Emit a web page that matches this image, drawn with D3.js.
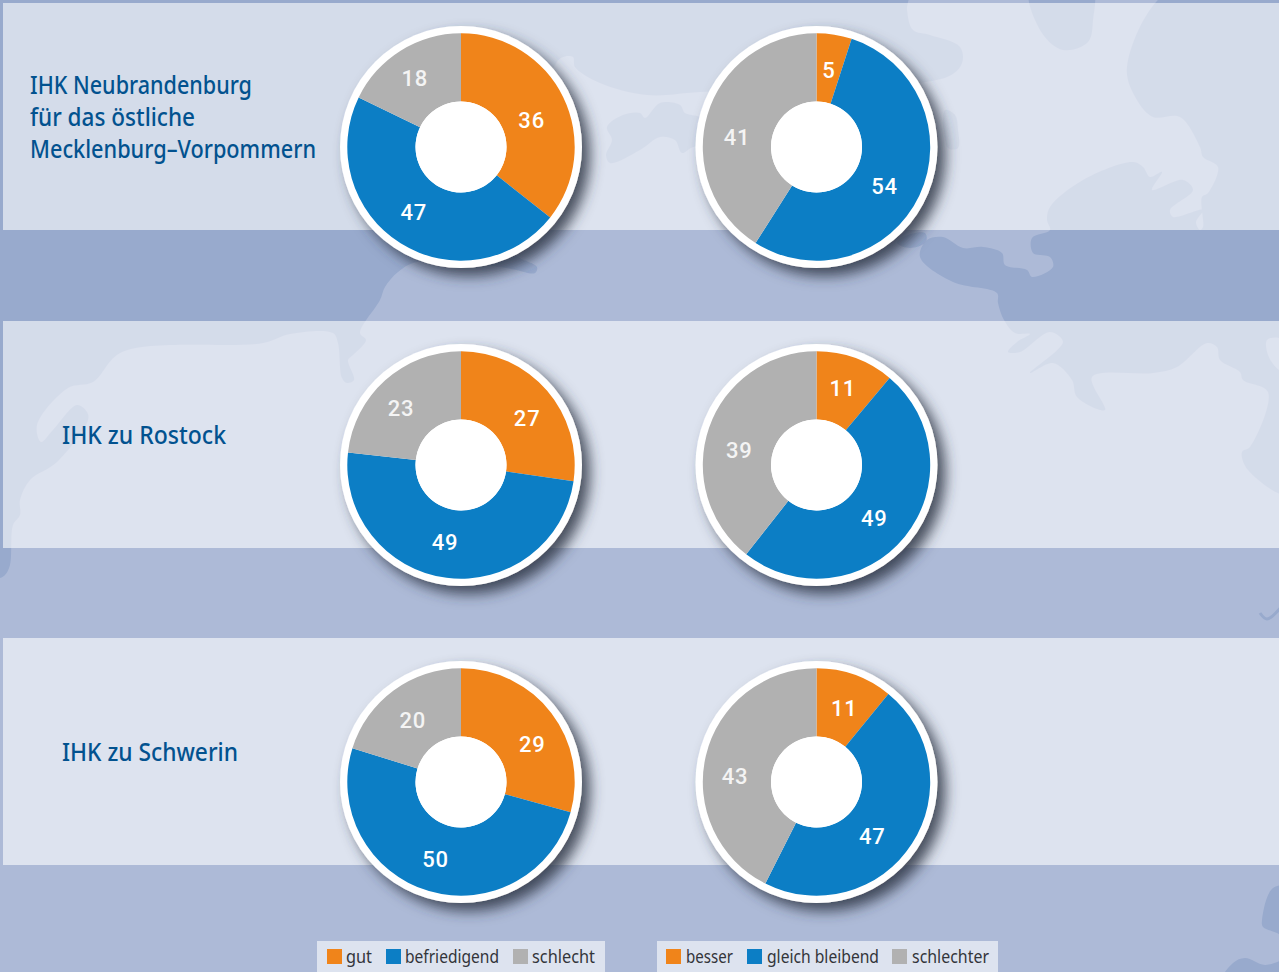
<!DOCTYPE html>
<html lang="de">
<head>
<meta charset="utf-8">
<title>IHK Lage und Erwartung</title>
<script src="https://cdn.jsdelivr.net/npm/d3@7/dist/d3.min.js"></script>
<style>
html,body{margin:0;padding:0;background:#adbad7;overflow:hidden}
svg{display:block}
text{font-family:"Noto Sans",sans-serif}
</style>
</head>
<body>
<svg id="chart" width="1279" height="972"></svg>
<script>
// ---- data ----
const chambers = ["IHK Neubrandenburg", "IHK zu Rostock", "IHK zu Schwerin"];
const situationCategories = ["gut", "befriedigend", "schlecht"];
const outlookCategories = ["besser", "gleich bleibend", "schlechter"];
const situationNeubrandenburg = [36, 47, 18];
const outlookNeubrandenburg = [5, 54, 41];
const situationRostock = [27, 49, 23];
const outlookRostock = [11, 49, 39];
const situationSchwerin = [29, 50, 20];
const outlookSchwerin = [11, 47, 43];

// ---- layout & style ----
const W = 1279, H = 972;
const colors = ["#f0841a", "#0c7ec5", "#b1b1b1"];
const landColor = "#adbad7", seaColor = "#98aacd";
const panelTops = [3, 321, 638], panelHeight = 227, panelLeft = 3;
const columnX = [461, 816.5], rowY = [147, 465, 782];
const rOuter = 113.7, rInner = 45.5, rRing = 121;
// small hand-placement shift of each number relative to its slice centroid
const labelNudges = [
  [[-1, 8], [-5, -3], [-4, -2]], [[0, 1], [-4, 5], [-3, 12]],
  [[6, 5], [-6, -2], [-7, 2]],   [[-1, -2], [-4, 3], [-2, 11]],
  [[8, 10], [-3, 0], [-1, 2]],   [[1, 1], [-11, 11], [-4, 12]]
];
const titleBlocks = [
  {lines: [[chambers[0], 222], ["für das östliche", 165], ["Mecklenburg–Vorpommern", 286]], x: 30, y: 94},
  {lines: [[chambers[1], 164]], x: 62, y: 444},
  {lines: [[chambers[2], 176]], x: 62, y: 761}
];
const legendBoxes = [
  {x: 317, w: 288, cats: situationCategories, sw: [327, 386, 513], tx: [346, 405, 532], tw: [26, 94, 63]},
  {x: 657, w: 341, cats: outlookCategories, sw: [666, 747, 892], tx: [686, 767, 912], tw: [47, 112, 77]}
];

// decorative map background (sea shapes over land)
const seaShapes = [
  [[-20,578],[0,578],[5,575],[10,565],[13,525],[20,515],[20,500],[30,480],[57,462],[88,420],[87,412],[77,405],[53,430],[41,442],[37,425],[68,388],[93,382],[122,352],[263,343],[290,334],[333,333],[338,343],[342,378],[347,383],[354,380],[348,360],[353,355],[366,340],[360,333],[380,300],[385,287],[398,272],[417,262],[507,268],[535,273],[537,267],[520,258],[510,250],[555,65],[563,57],[573,57],[575,67],[600,83],[647,95],[700,92],[947,77],[962,63],[960,47],[930,35],[913,30],[907,10],[908,-20],[-20,-20]],
  [[607,127],[623,115],[640,113],[645,118],[660,103],[680,105],[685,113],[700,117],[720,130],[720,145],[693,147],[682,153],[675,140],[660,137],[640,150],[610,163],[606,155],[612,140]],
  [[1030,-10],[1042,33],[1063,50],[1088,42],[1093,20],[1092,-10]],
  [[945,110],[955,115],[958,130],[958,148],[948,148]],
  [[897,243],[905,236],[925,233],[926,242],[910,248]],
  [[1170,-10],[1127,67],[1137,100],[1153,117],[1180,117],[1200,147],[1203,157],[1218,167],[1208,193],[1202,197],[1203,227],[1200,230],[1196,222],[1203,210],[1173,217],[1170,210],[1193,190],[1183,180],[1152,190],[1162,172],[1150,177],[1143,167],[1133,162],[1083,180],[1050,207],[1047,220],[1050,230],[1032,238],[1033,253],[1050,257],[1053,267],[1032,277],[1027,270],[1005,265],[1002,253],[983,247],[963,248],[943,237],[927,240],[920,257],[953,282],[997,293],[998,303],[1004,320],[1015,333],[1030,334],[1017,342],[1008,352],[1020,352],[1050,332],[1063,342],[1030,373],[1053,363],[1072,380],[1077,397],[1105,410],[1092,377],[1153,373],[1177,367],[1207,343],[1217,347],[1220,360],[1240,372],[1243,380],[1268,392],[1250,447],[1242,452],[1248,470],[1295,495],[1295,-10]],
  [[1295,888],[1273,888],[1262,920],[1263,927],[1277,933],[1295,945]],
  [[1220,985],[1233,963],[1245,958],[1265,965],[1295,958],[1295,985]]
];
const landIslands = [
  [[1267,340],[1279,338],[1290,345],[1290,372],[1279,370],[1268,355]]
];
const creek = [[1260,613],[1267,619],[1282,606]];

const svg = d3.select("#chart").attr("viewBox", [0, 0, W, H]);
const defs = svg.append("defs");
const shadow = defs.append("filter").attr("id", "ds")
  .attr("x", "-25%").attr("y", "-25%").attr("width", "160%").attr("height", "160%");
shadow.append("feDropShadow")
  .attr("dx", 8).attr("dy", 8).attr("stdDeviation", 7)
  .attr("flood-color", "#2f3545").attr("flood-opacity", 0.85);

// background
svg.append("rect").attr("width", W).attr("height", H).attr("fill", landColor);
const coast = d3.line().curve(d3.curveCatmullRomClosed.alpha(0.5));
const map = svg.append("g");
map.selectAll(".sea").data(seaShapes).join("path").attr("class", "sea").attr("d", coast).attr("fill", seaColor);
map.selectAll(".island").data(landIslands).join("path").attr("class", "island").attr("d", coast).attr("fill", landColor);
map.append("path").attr("d", d3.line().curve(d3.curveCatmullRom)(creek))
  .attr("fill", "none").attr("stroke", seaColor).attr("stroke-width", 3);

// translucent panels
svg.append("g").selectAll("rect").data(panelTops).join("rect")
  .attr("x", panelLeft).attr("y", d => d).attr("width", W - panelLeft).attr("height", panelHeight)
  .attr("fill", "#fff").attr("fill-opacity", 0.59);

// titles
const titles = svg.append("g").attr("fill", "#02528f").attr("font-size", 25).attr("font-weight", 500);
titleBlocks.forEach(b => {
  b.lines.forEach(([txt, w], i) => {
    titles.append("text").attr("x", b.x).attr("y", b.y + i * 32)
      .attr("textLength", w).attr("lengthAdjust", "spacingAndGlyphs").text(txt);
  });
});

// donuts
const pie = d3.pie().sort(null).value(d => d);
const arc = d3.arc().innerRadius(rInner).outerRadius(rOuter);
const donuts = [
  situationNeubrandenburg, outlookNeubrandenburg,
  situationRostock, outlookRostock,
  situationSchwerin, outlookSchwerin
];
donuts.forEach((vals, k) => {
  const cx = columnX[k % 2], cy = rowY[Math.floor(k / 2)];
  const g = svg.append("g").attr("transform", `translate(${cx},${cy})`);
  g.append("circle").attr("r", rRing).attr("fill", "#fff").attr("filter", "url(#ds)");
  const slices = pie(vals);
  g.selectAll("path").data(slices).join("path")
    .attr("d", arc).attr("fill", (d, i) => colors[i]);
  g.append("circle").attr("r", rInner).attr("fill", "#fff");
  g.selectAll("text").data(slices).join("text")
    .attr("transform", (d, i) => {
      const [x, y] = arc.centroid(d);
      return `translate(${x + labelNudges[k][i][0]},${y + labelNudges[k][i][1]})`;
    })
    .attr("text-anchor", "middle").attr("dy", "0.37em")
    .attr("fill", (d, i) => i === 2 ? "#f4f4f4" : "#fff")
    .style("font-family", "Roboto, sans-serif")
    .attr("font-size", 22).attr("font-weight", 500).attr("letter-spacing", 0.8)
    .text(d => d.data);
});

// legends
const legendTop = 941, legendH = 31;
legendBoxes.forEach(b => {
  const g = svg.append("g");
  g.append("rect").attr("x", b.x).attr("y", legendTop).attr("width", b.w).attr("height", legendH).attr("fill", "#dde3ef");
  b.cats.forEach((c, i) => {
    g.append("rect").attr("x", b.sw[i]).attr("y", 949).attr("width", 15).attr("height", 15).attr("fill", colors[i]);
    g.append("text").attr("x", b.tx[i]).attr("y", 963).attr("font-size", 18).attr("fill", "#33353a")
      .attr("textLength", b.tw[i]).attr("lengthAdjust", "spacingAndGlyphs").text(c);
  });
});
</script>
</body>
</html>
